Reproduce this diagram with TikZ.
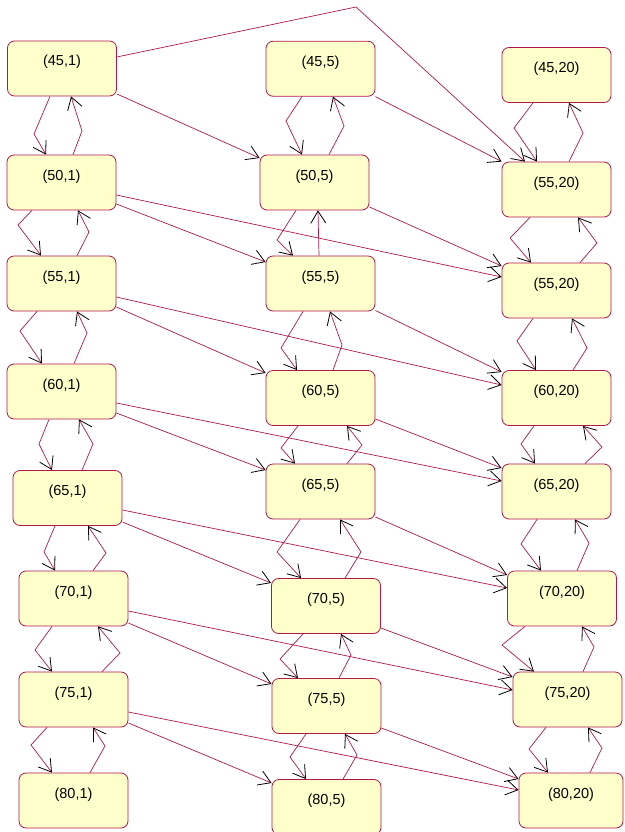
\documentclass[tikz,border=0pt]{standalone}
\usepackage{fontspec}
\setmainfont{Liberation Sans}
\usetikzlibrary{arrows.meta}
\definecolor{edgecol}{RGB}{176,24,76}
\definecolor{boxfill}{RGB}{255,255,204}
\tikzset{
  statebox/.style={draw=edgecol, fill=boxfill, rounded corners=7pt, line width=0.8pt,
    minimum width=109pt, inner xsep=0pt, inner ysep=0pt, text height=25pt, text depth=30pt,
    font=\fontsize{14.5}{17}\selectfont},
  conn/.style={draw=edgecol, line width=0.7pt,
    -{Straight Barb[color=black, length=12pt, width=15pt, line width=0.8pt]}},
}
\begin{document}
\begin{tikzpicture}[x=1pt,y=-1pt]
\useasboundingbox (0,0) rectangle (624,832);
% column 1
\node[statebox] (n451) at (62,68.5) {(45,1)};
\node[statebox] (n501) at (61.5,182.5) {(50,1)};
\node[statebox] (n551) at (61.5,283.5) {(55,1)};
\node[statebox] (n601) at (61.5,391.5) {(60,1)};
\node[statebox] (n651) at (67.5,498) {(65,1)};
\node[statebox] (n701) at (73.5,598.5) {(70,1)};
\node[statebox] (n751) at (73.5,699.5) {(75,1)};
\node[statebox] (n801) at (73.5,800.5) {(80,1)};
% column 2
\node[statebox] (n455) at (320.5,68.75) {(45,5)};
\node[statebox] (n505) at (314.5,182.5) {(50,5)};
\node[statebox] (n555) at (320.5,283.5) {(55,5)};
\node[statebox] (n605) at (320.5,398) {(60,5)};
\node[statebox] (n655) at (320.5,491.5) {(65,5)};
\node[statebox] (n705) at (326,606) {(70,5)};
\node[statebox] (n755) at (326.5,706) {(75,5)};
\node[statebox] (n805) at (326.5,807) {(80,5)};
% column 3
\node[statebox] (n4520) at (556.5,75) {(45,20)};
\node[statebox] (n5520a) at (556.5,189.5) {(55,20)};
\node[statebox] (n5520b) at (556.5,290.5) {(55,20)};
\node[statebox] (n6020) at (556.5,398) {(60,20)};
\node[statebox] (n6520) at (556.5,491.5) {(65,20)};
\node[statebox] (n7020) at (562,598.5) {(70,20)};
\node[statebox] (n7520) at (567.5,699.5) {(75,20)};
\node[statebox, minimum width=104pt] (n8020) at (571,800.5) {(80,20)};

% column 1 vertical pairs
\draw[conn] ([xshift=-12pt]n451.south) -- (34,134) -- ([xshift=-15.5pt]n501.north);
\draw[conn] ([xshift=11.5pt]n501.north) -- (82,131) -- ([xshift=9pt]n451.south);
\draw[conn] ([xshift=-29.5pt]n501.south) -- (18,225) -- ([xshift=-20.5pt]n551.north);
\draw[conn] ([xshift=15.5pt]n551.north) -- (89,232) -- ([xshift=16.5pt]n501.south);
\draw[conn] ([xshift=-24.5pt]n551.south) -- (20,331) -- ([xshift=-19.5pt]n601.north);
\draw[conn] ([xshift=12.5pt]n601.north) -- (87,333) -- ([xshift=15.5pt]n551.south);
\draw[conn] ([xshift=-12.5pt]n601.south) -- (39,444) -- ([xshift=-15.5pt]n651.north);
\draw[conn] ([xshift=14.5pt]n651.north) -- (93,444) -- ([xshift=17.5pt]n601.south);
\draw[conn] ([xshift=-12.5pt]n651.south) -- (44,552) -- ([xshift=-18.5pt]n701.north);
\draw[conn] ([xshift=19.5pt]n701.north) -- (106,553) -- ([xshift=20.5pt]n651.south);
\draw[conn] ([xshift=-21.5pt]n701.south) -- (35,650) -- ([xshift=-21.5pt]n751.north);
\draw[conn] ([xshift=28.5pt]n751.north) -- (120,653) -- ([xshift=24.5pt]n701.south);
\draw[conn] ([xshift=-26.5pt]n751.south) -- (31,745) -- ([xshift=-21.5pt]n801.north);
\draw[conn] ([xshift=16.5pt]n801.north) -- (105,746) -- ([xshift=19.5pt]n751.south);

% column 2 vertical pairs
\draw[conn] ([xshift=-18.5pt]n455.south) -- (286,121) -- ([xshift=-12.5pt]n505.north);
\draw[conn] ([xshift=14.5pt]n505.north) -- (344,126) -- ([xshift=12.5pt]n455.south);
\draw[conn] ([xshift=-18.5pt]n505.south) -- (277,240) -- ([xshift=-27.5pt]n555.north);
\draw[conn] ([xshift=-1.5pt]n555.north) -- ([xshift=3.5pt]n505.south);
\draw[conn] ([xshift=-17.5pt]n555.south) -- (281,348) -- ([xshift=-23.5pt]n605.north);
\draw[conn] ([xshift=12.5pt]n605.north) -- (342,345) -- ([xshift=9.5pt]n555.south);
\draw[conn] ([xshift=-22.5pt]n605.south) -- (281,448) -- ([xshift=-25.5pt]n655.north);
\draw[conn] ([xshift=26.5pt]n655.north) -- (362,445) -- ([xshift=26.5pt]n605.south);
\draw[conn] ([xshift=-20.5pt]n655.south) -- (277,552) -- ([xshift=-25pt]n705.north);
\draw[conn] ([xshift=19pt]n705.north) -- (361,552) -- ([xshift=19.5pt]n655.south);
\draw[conn] ([xshift=-23pt]n705.south) -- (280,659) -- ([xshift=-28.5pt]n755.north);
\draw[conn] ([xshift=12.5pt]n755.north) -- (351,655) -- ([xshift=15pt]n705.south);
\draw[conn] ([xshift=-20.5pt]n755.south) -- (290,757) -- ([xshift=-20.5pt]n805.north);
\draw[conn] ([xshift=16.5pt]n805.north) -- (357,755) -- ([xshift=18.5pt]n755.south);

% column 3 vertical pairs
\draw[conn] ([xshift=-23.5pt]n4520.south) -- (514,128) -- ([xshift=-19.5pt]n5520a.north);
\draw[conn] ([xshift=12.5pt]n5520a.north) -- (583,133) -- ([xshift=12.5pt]n4520.south);
\draw[conn] ([xshift=-26.5pt]n5520a.south) -- (510,238) -- ([xshift=-25.5pt]n5520b.north);
\draw[conn] ([xshift=23.5pt]n5520b.north) -- (597,243) -- ([xshift=21.5pt]n5520a.south);
\draw[conn] ([xshift=-23.5pt]n5520b.south) -- (517,341) -- ([xshift=-20.5pt]n6020.north);
\draw[conn] ([xshift=16.5pt]n6020.north) -- (587,348) -- ([xshift=15.5pt]n5520b.south);
\draw[conn] ([xshift=-22.5pt]n6020.south) -- (521,444) -- ([xshift=-21.5pt]n6520.north);
\draw[conn] ([xshift=28.5pt]n6520.north) -- (602,447) -- ([xshift=26.5pt]n6020.south);
\draw[conn] ([xshift=-19.5pt]n6520.south) -- (521,544) -- ([xshift=-21pt]n7020.north);
\draw[conn] ([xshift=15pt]n7020.north) -- (589,543) -- ([xshift=18.5pt]n6520.south);
\draw[conn] ([xshift=-37pt]n7020.south) -- (502,645) -- ([xshift=-33.5pt]n7520.north);
\draw[conn] ([xshift=15.5pt]n7520.north) -- (594,647) -- ([xshift=20pt]n7020.south);
\draw[conn] ([xshift=-21.5pt]n7520.south) -- (529,749) -- ([xshift=-23pt]n8020.north);
\draw[conn] ([xshift=19pt]n8020.north) -- (602,748) -- ([xshift=20.5pt]n7520.south);

% cross edges
\draw[conn] ([yshift=-25.5pt]n451.east) -- ([yshift=24.5pt]n505.west);
\draw[conn] ([yshift=11.5pt]n451.east) -- (356,7) -- ([xshift=-31.5pt]n5520a.north);
\draw[conn] (n455.south east) -- (n5520a.north west);
\draw[conn] ([yshift=-21.5pt]n501.east) -- ([yshift=21.5pt]n555.west);
\draw[conn] ([yshift=-12.5pt]n501.east) -- ([yshift=13.5pt]n5520b.west);
\draw[conn] ([yshift=-24.5pt]n505.east) -- ([yshift=24.5pt]n5520b.west);
\draw[conn] ([yshift=-23.5pt]n551.east) -- ([yshift=25pt]n605.west);
\draw[conn] ([yshift=-13.5pt]n551.east) -- ([yshift=13pt]n6020.west);
\draw[conn] ([yshift=-27pt]n555.east) -- ([yshift=26pt]n6020.west);
\draw[conn] ([yshift=-21.5pt]n601.east) -- ([yshift=21.5pt]n655.west);
\draw[conn] ([yshift=-11.5pt]n601.east) -- ([yshift=10.5pt]n6520.west);
\draw[conn] ([yshift=-21pt]n605.east) -- ([yshift=23.5pt]n6520.west);
\draw[conn] ([yshift=-24pt]n651.east) -- ([yshift=23pt]n705.west);
\draw[conn] ([yshift=-12pt]n651.east) -- ([yshift=10.5pt]n7020.west);
\draw[conn] ([yshift=-25.5pt]n655.east) -- ([yshift=23.5pt]n7020.west);
\draw[conn] ([yshift=-24.5pt]n701.east) -- ([yshift=22pt]n755.west);
\draw[conn] ([yshift=-12.5pt]n701.east) -- ([yshift=9.5pt]n7520.west);
\draw[conn] ([yshift=-22pt]n705.east) -- ([yshift=22.5pt]n7520.west);
\draw[conn] ([yshift=-23.5pt]n751.east) -- ([yshift=24pt]n805.west);
\draw[conn] ([yshift=-12.5pt]n751.east) -- ([yshift=10.5pt]n8020.west);
\draw[conn] ([yshift=-22pt]n755.east) -- ([yshift=21.5pt]n8020.west);
\end{tikzpicture}
\end{document}
